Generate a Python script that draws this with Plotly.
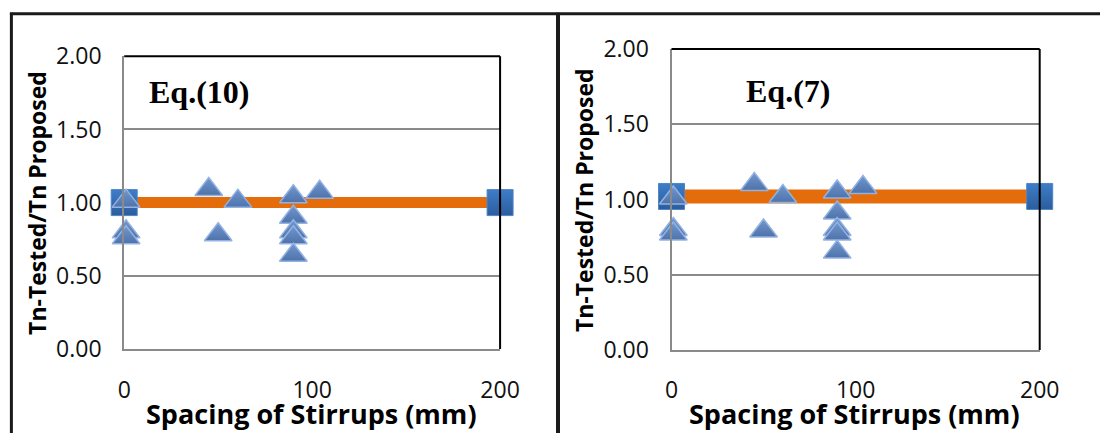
import plotly.graph_objects as go

# ---------------- data ----------------
x_spacing = [1, 1, 1, 45, 50, 60.5, 90, 90, 90, 90, 90, 104]
ratio_eq10 = [1.01, 0.80, 0.76, 1.09, 0.78, 1.01, 1.04, 0.90, 0.80, 0.76, 0.64, 1.07]
ratio_eq7 = [1.01, 0.80, 0.77, 1.10, 0.79, 1.02, 1.05, 0.91, 0.80, 0.77, 0.65, 1.08]
ref_x = [0, 200]
ref_eq10 = [1.00, 1.00]
ref_eq7 = [1.02, 1.02]
x_ticks = [0, 100, 200]
y_ticks = [0.0, 0.5, 1.0, 1.5, 2.0]
panel_labels = ["Eq.(10)", "Eq.(7)"]
x_title = "Spacing of Stirrups (mm)"
y_title = "Tn-Tested/Tn Proposed"

# page -> picture mapping observed for this renderer
A, SX = 5.1, 0.9775
C, SY = 14.4, 0.938
W, H = 1120, 460


def lx(X):
    return (X - A) / SX


def ly(Y):
    return (Y - C) / SY


def px(X):
    return lx(X) / W


def py(Y):
    return 1 - ly(Y) / H


ORANGE = "#E46C0A"
TRI_FILL = "#7198CF"
TRI_DARK = "#4F72AA"
TRI_EDGE = "#92B2E2"
SQ_FILL = "#3E7DC9"
SQ_DARK = "#2C5D9C"
GRID = "#8A8A8A"
SANS = "'Open Sans', Lato, sans-serif"
SERIF = "'Liberation Serif', 'DejaVu Serif', serif"

fig = go.Figure()

panels = [
    dict(xa="x", ya="y", ref=ref_eq10, tri=ratio_eq10, lw=11,
         xd=[px(122.5), px(499)], yd=[py(349), py(54)]),
    dict(xa="x2", ya="y2", ref=ref_eq7, tri=ratio_eq7, lw=14,
         xd=[px(670.7), px(1039.5)], yd=[py(350), py(46.7)]),
]

for p in panels:
    fig.add_trace(go.Scatter(
        x=ref_x, y=p["ref"], xaxis=p["xa"], yaxis=p["ya"],
        mode="lines+markers", cliponaxis=False, showlegend=False,
        line=dict(color=ORANGE, width=p["lw"]),
        marker=dict(symbol="square", size=26, color=SQ_FILL,
                    gradient=dict(type="vertical", color=SQ_DARK),
                    line=dict(color="#4E86C8", width=1)),
    ))
    fig.add_trace(go.Scatter(
        x=x_spacing, y=p["tri"], xaxis=p["xa"], yaxis=p["ya"],
        mode="markers", cliponaxis=False, showlegend=False,
        marker=dict(symbol="triangle-up", size=24, color=TRI_FILL,
                    gradient=dict(type="vertical", color=TRI_DARK),
                    line=dict(color=TRI_EDGE, width=1.5)),
    ))

axis_common_x = dict(
    range=[0, 200], tickvals=x_ticks, ticktext=[str(v) for v in x_ticks],
    showgrid=False, zeroline=False, showline=True, linecolor=GRID, linewidth=2,
    ticks="", tickfont=dict(family=SANS, size=23, color="#111111"),
    ticklabelstandoff=19, fixedrange=True,
)
axis_common_y = dict(
    range=[0, 2], tickvals=y_ticks, tickformat=".2f",
    showgrid=True, gridcolor=GRID, gridwidth=1.5, zeroline=False,
    showline=True, linecolor=GRID, linewidth=2,
    ticks="", tickfont=dict(family=SANS, size=23, color="#111111"),
    ticklabelstandoff=16, fixedrange=True,
)

fig.update_layout(
    width=W, height=H, autosize=False,
    margin=dict(l=0, r=0, t=0, b=0, pad=0),
    paper_bgcolor="white", plot_bgcolor="white",
    xaxis=dict(domain=panels[0]["xd"], anchor="y", **axis_common_x),
    yaxis=dict(domain=panels[0]["yd"], anchor="x", **axis_common_y),
    xaxis2=dict(domain=panels[1]["xd"], anchor="y2", **axis_common_x),
    yaxis2=dict(domain=panels[1]["yd"], anchor="x2", **axis_common_y),
)

shapes = []
for xa, ya in [("x", "y"), ("x2", "y2")]:
    shapes.append(dict(type="line", xref=f"{xa} domain", yref=f"{ya} domain",
                       x0=0, x1=1, y0=1, y1=1, line=dict(color="black", width=2)))
    shapes.append(dict(type="line", xref=f"{xa} domain", yref=f"{ya} domain",
                       x0=1, x1=1, y0=0, y1=1, line=dict(color="black", width=2)))
shapes.append(dict(type="line", xref="paper", yref="paper",
                   x0=px(8), x1=1, y0=py(11), y1=py(11),
                   line=dict(color="#1a1a1a", width=3)))
shapes.append(dict(type="line", xref="paper", yref="paper",
                   x0=px(9.5), x1=px(9.5), y0=py(10), y1=0,
                   line=dict(color="#1a1a1a", width=3)))
shapes.append(dict(type="line", xref="paper", yref="paper",
                   x0=px(557), x1=px(557), y0=py(10), y1=0,
                   line=dict(color="#1a1a1a", width=4)))
fig.update_layout(shapes=shapes)

annotations = []


def add_text(text, cx, cy, font, angle=0):
    annotations.append(dict(text=text, xref="paper", yref="paper",
                            x=px(cx), y=py(cy), xanchor="center", yanchor="middle",
                            showarrow=False, textangle=angle, font=font))


serif_font = dict(family=SERIF, size=32, color="black")
add_text(f"<b>{panel_labels[0]}</b>", 197, 90, serif_font)
add_text(f"<b>{panel_labels[1]}</b>", 787, 89, serif_font)
for cx in (310, 854):
    add_text(f"<b>{x_title}</b>", cx, 414, dict(family=SANS, size=27, color="black"))
for cx, cy in ((35, 202), (583, 199)):
    add_text(f"<b>{y_title}</b>", cx, cy, dict(family=SANS, size=23, color="black"), -90)
fig.update_layout(annotations=annotations)

fig.write_html("out.html")
